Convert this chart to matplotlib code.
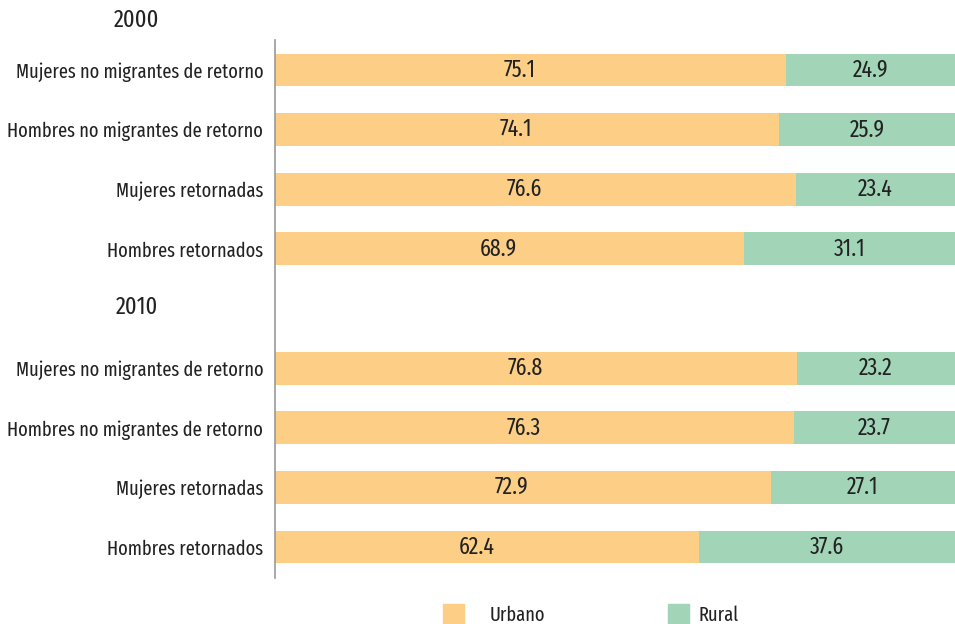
import matplotlib.pyplot as plt
from matplotlib.patches import Rectangle

plt.rcParams['font.family'] = ['Fira Sans Extra Condensed', 'Fira Sans Condensed', 'DejaVu Sans']

categorias = ['Mujeres no migrantes de retorno', 'Hombres no migrantes de retorno',
              'Mujeres retornadas', 'Hombres retornados']
anios = ['2000', '2010']
urbano_2000 = [75.1, 74.1, 76.6, 68.9]
rural_2000 = [24.9, 25.9, 23.4, 31.1]
urbano_2010 = [76.8, 76.3, 72.9, 62.4]
rural_2010 = [23.2, 23.7, 27.1, 37.6]

c_urb = '#FDCE85'
c_rur = '#A2D5B7'
c_txt = '#222222'
fs = 14.4     # etiquetas
fs_num = 17   # valores en barras
fs_anio = 17.5

fig = plt.figure(figsize=(9.55, 6.24), dpi=100)
ax = fig.add_axes([275 / 955, 1 - 578 / 624, 680 / 955, 538 / 624])

# posiciones: fila 0 = titulo 2000, 1-4 barras, 5 = titulo 2010, 6-9 barras
pos = [1, 2, 3, 4, 6, 7, 8, 9]
urb = urbano_2000 + urbano_2010
rur = rural_2000 + rural_2010
etiquetas = categorias + categorias

ax.barh(pos, urb, height=0.55, color=c_urb)
ax.barh(pos, rur, left=urb, height=0.55, color=c_rur)
for p, u, r in zip(pos, urb, rur):
    # en el original el valor urbano va un poco a la izquierda del centro
    ax.text(u / 2 - 1.6, p, f'{u:.1f}', ha='center', va='center', fontsize=fs_num, color=c_txt)
    ax.text(u + r / 2, p, f'{r:.1f}', ha='center', va='center', fontsize=fs_num, color=c_txt)

ax.set_xlim(0, 100)
ax.set_ylim(9.52, 0.497)
ax.set_yticks(pos)
ax.set_yticklabels(etiquetas, fontsize=fs, color=c_txt)
ax.tick_params(axis='y', length=0, pad=8.5)
ax.set_xticks([])
for s in ['top', 'right', 'bottom']:
    ax.spines[s].set_visible(False)
ax.spines['left'].set_color('#999999')
ax.spines['left'].set_linewidth(1.2)

for a, y in zip(anios, [0.16, 4.98]):
    ax.text(-0.203, y, a, transform=ax.get_yaxis_transform(), ha='center', va='center',
            fontsize=fs_anio, color=c_txt, clip_on=False)

# leyenda
for x0, tx, lab, c in [(443, 490, 'Urbano', c_urb), (668, 698, 'Rural', c_rur)]:
    fig.add_artist(Rectangle((x0 / 955, 0), 21 / 955, 20 / 624,
                             transform=fig.transFigure, color=c))
    fig.text(tx / 955, 1 - 615 / 624, lab, ha='left', va='center', fontsize=fs, color=c_txt)

fig.savefig('out.png', dpi=100)
